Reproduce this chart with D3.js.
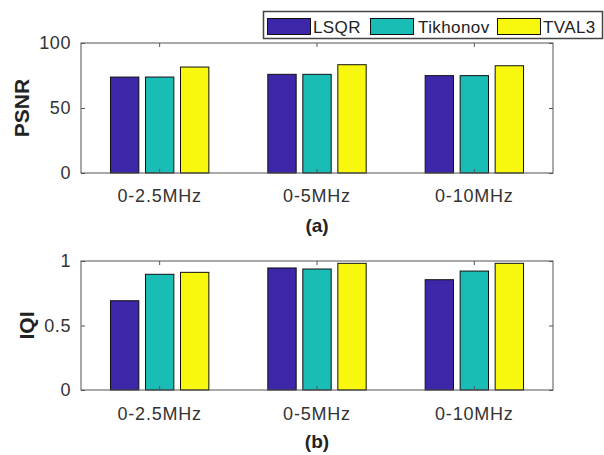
<!DOCTYPE html>
<html><head><meta charset="utf-8">
<script src="https://cdn.jsdelivr.net/npm/d3@7"></script>
<style>body{margin:0;background:#fff}svg{display:block}text{font-family:"Liberation Sans",Arial,sans-serif}</style>
</head><body>
<svg id="c" width="604" height="455"></svg>
<script>
const categories = ["0-2.5MHz", "0-5MHz", "0-10MHz"];
const seriesNames = ["LSQR", "Tikhonov", "TVAL3"];
const colors = ["#3D26A8", "#19BDB5", "#F8F80F"];
const psnrLSQR = [73.8, 75.9, 74.9];
const psnrTikhonov = [73.8, 75.9, 74.9];
const psnrTVAL3 = [81.5, 83.3, 82.5];
const iqiLSQR = [0.692, 0.946, 0.855];
const iqiTikhonov = [0.897, 0.938, 0.922];
const iqiTVAL3 = [0.912, 0.982, 0.982];
const psnrTicks = [0, 50, 100];
const iqiTicks = [0, 0.5, 1];

const svg = d3.select("#c");
const X0 = 81, X1 = 553;
const axisColor = "#555", textColor = "#333";

function panel(top, bottom, yMax, ticks, tickFmt, series, ylabel, ylabelX, sub, subY, xlabY) {
  const g = svg.append("g");
  const x = d3.scaleBand().domain(categories).range([X0, X1]).padding(0);
  const step = 0.2225 * x.bandwidth();
  const xi = d3.scaleBand().domain(seriesNames).range([-1.5 * step, 1.5 * step]).paddingInner(0.19).paddingOuter(0.095);
  const y = d3.scaleLinear().domain([0, yMax]).range([bottom, top]);
  seriesNames.forEach((s, si) => {
    g.selectAll(null).data(series[si]).enter().append("rect")
      .attr("x", (d, i) => x(categories[i]) + x.bandwidth() / 2 + xi(s))
      .attr("width", xi.bandwidth())
      .attr("y", d => y(d))
      .attr("height", d => y(0) - y(d))
      .attr("fill", colors[si]).attr("stroke", "#111").attr("stroke-width", 1);
  });
  g.append("rect").attr("x", X0).attr("y", top).attr("width", X1 - X0).attr("height", bottom - top)
    .attr("fill", "none").attr("stroke", axisColor).attr("stroke-width", 1);
  const ya = d3.axisLeft(y).tickValues(ticks).tickFormat(tickFmt).tickSizeInner(-4).tickSizeOuter(0).tickPadding(10);
  const yg = g.append("g").attr("transform", `translate(${X0},0)`).call(ya);
  yg.select(".domain").remove();
  yg.selectAll("line").attr("stroke", axisColor);
  yg.selectAll("text").attr("font-size", 18).attr("fill", textColor).attr("letter-spacing", "0.6px").attr("font-family", "Liberation Sans, Arial, sans-serif");
  const yr = d3.axisRight(y).tickValues(ticks).tickFormat("").tickSizeInner(-4).tickSizeOuter(0);
  const yrg = g.append("g").attr("transform", `translate(${X1},0)`).call(yr);
  yrg.select(".domain").remove();
  yrg.selectAll("line").attr("stroke", axisColor);
  const xa = d3.axisBottom(x).tickSizeInner(-4).tickSizeOuter(0).tickPadding(12);
  const xg = g.append("g").attr("transform", `translate(0,${bottom})`).call(xa);
  xg.select(".domain").remove();
  xg.selectAll("line").attr("stroke", axisColor);
  xg.selectAll("text").attr("font-size", 18).attr("fill", textColor).attr("letter-spacing", "0.8px").attr("font-family", "Liberation Sans, Arial, sans-serif")
    .attr("dy", null).attr("y", xlabY - bottom);
  const xt = d3.axisTop(x).tickFormat("").tickSizeInner(-4).tickSizeOuter(0);
  const xtg = g.append("g").attr("transform", `translate(0,${top})`).call(xt);
  xtg.select(".domain").remove();
  xtg.selectAll("line").attr("stroke", axisColor);
  g.append("text").attr("transform", `translate(${ylabelX},${(top + bottom) / 2}) rotate(-90)`)
    .attr("text-anchor", "middle").attr("font-size", 21).attr("font-weight", "bold").attr("fill", "#222").text(ylabel);
  g.append("text").attr("x", (X0 + X1) / 2).attr("y", subY).attr("text-anchor", "middle")
    .attr("font-size", 19).attr("font-weight", "bold").attr("fill", "#222").text(sub);
}

panel(43, 173, 100, psnrTicks, d3.format("d"), [psnrLSQR, psnrTikhonov, psnrTVAL3], "PSNR", 29, "(a)", 232, 202);
panel(261, 390, 1, iqiTicks, d => d === 0.5 ? "0.5" : d3.format("d")(d), [iqiLSQR, iqiTikhonov, iqiTVAL3], "IQI", 34, "(b)", 448, 420);

const lg = svg.append("g");
lg.append("rect").attr("x", 263.5).attr("y", 11.5).attr("width", 339).attr("height", 27)
  .attr("fill", "#fff").attr("stroke", "#444").attr("stroke-width", 1.5);
const swX = [267, 370, 497], txX = [313, 418, 543];
seriesNames.forEach((s, i) => {
  lg.append("rect").attr("x", swX[i] + 0.5).attr("y", 18.5).attr("width", 43).attr("height", 16)
    .attr("fill", colors[i]).attr("stroke", "#111").attr("stroke-width", 1);
});
seriesNames.forEach((s, i) => {
  lg.append("text").attr("x", txX[i]).attr("y", 33).attr("font-size", 17).attr("letter-spacing", "0.4px").attr("fill", "#222").text(s);
});
</script>
</body></html>
